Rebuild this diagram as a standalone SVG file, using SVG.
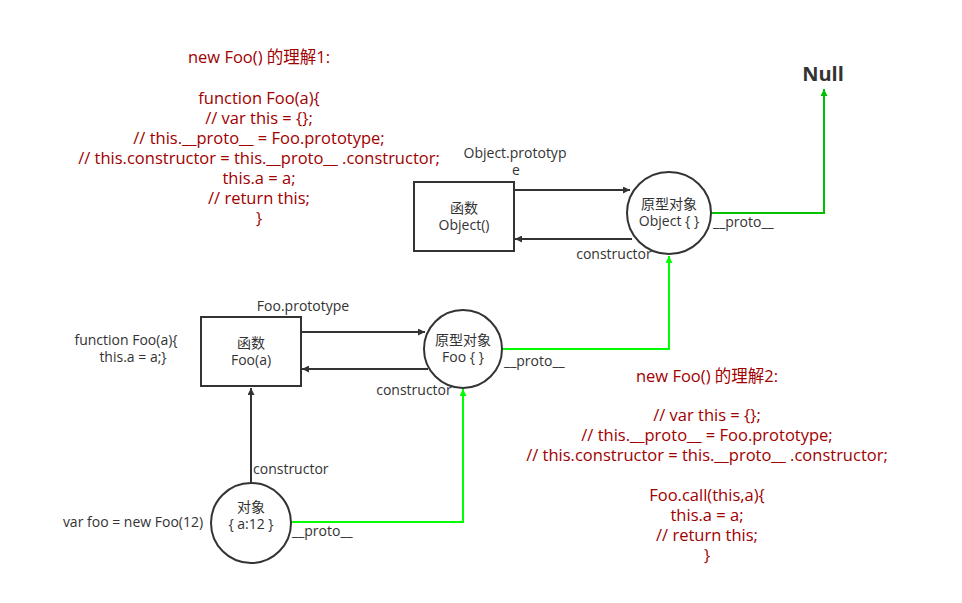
<svg xmlns="http://www.w3.org/2000/svg" width="962" height="603" viewBox="0 0 962 603">
<defs>
<style>
.lbl{font-family:"Open Sans","Noto Sans CJK SC",sans-serif;font-size:14px;fill:#333;text-anchor:middle}
.lbll{font-family:"Open Sans","Noto Sans CJK SC",sans-serif;font-size:14px;fill:#333}
.red{font-family:"Open Sans","Noto Sans CJK SC",sans-serif;font-size:16.5px;fill:#a00000;text-anchor:middle}
.box{fill:#fff;stroke:#333;stroke-width:2}
.blk{fill:none;stroke:#333;stroke-width:2}
.g1{fill:none;stroke:#00c000;stroke-width:2}
.g2{fill:none;stroke:#00ff00;stroke-width:2}
</style>
<marker id="ab" viewBox="0 0 10 10" refX="10" refY="5" markerWidth="7" markerHeight="7" orient="auto" markerUnits="userSpaceOnUse"><path d="M0,0 L10,5 L0,10 z" fill="#333"/></marker>
<marker id="ag1" viewBox="0 0 10 10" refX="10" refY="5" markerWidth="7" markerHeight="7" orient="auto" markerUnits="userSpaceOnUse"><path d="M0,0 L10,5 L0,10 z" fill="#00c000"/></marker>
<marker id="ag2" viewBox="0 0 10 10" refX="10" refY="5" markerWidth="7" markerHeight="7" orient="auto" markerUnits="userSpaceOnUse"><path d="M0,0 L10,5 L0,10 z" fill="#00ff00"/></marker>
</defs>
<rect width="962" height="603" fill="#fff"/>

<g id="note1">
<text class="red" x="259" y="63">new Foo() 的理解1:</text>
<text class="red" x="259" y="104">function Foo(a){</text>
<text class="red" x="259" y="124">// var this = {};</text>
<text class="red" x="259" y="144">// this.__proto__ = Foo.prototype;</text>
<text class="red" x="259" y="164">// this.constructor = this.__proto__ .constructor;</text>
<text class="red" x="259" y="184">this.a = a;</text>
<text class="red" x="259" y="204">// return this;</text>
<text class="red" x="259" y="224">}</text>
</g>

<g id="note2">
<text class="red" x="707" y="382">new Foo() 的理解2:</text>
<text class="red" x="707" y="421">// var this = {};</text>
<text class="red" x="707" y="441">// this.__proto__ = Foo.prototype;</text>
<text class="red" x="707" y="461">// this.constructor = this.__proto__ .constructor;</text>
<text class="red" x="707" y="501">Foo.call(this,a){</text>
<text class="red" x="707" y="521">this.a = a;</text>
<text class="red" x="707" y="541">// return this;</text>
<text class="red" x="707" y="561">}</text>
</g>

<g id="connectors">
<line class="blk" x1="514" y1="190" x2="630" y2="190" marker-end="url(#ab)"/>
<line class="blk" x1="632" y1="239" x2="515" y2="239" marker-end="url(#ab)"/>
<polyline class="g1" points="712,213 824,213 824,89" marker-end="url(#ag1)"/>
<line class="blk" x1="301" y1="332" x2="425" y2="332" marker-end="url(#ab)"/>
<line class="blk" x1="428" y1="369" x2="302" y2="369" marker-end="url(#ab)"/>
<polyline class="g2" points="502,349 669,349 669,256" marker-end="url(#ag2)"/>
<line class="blk" x1="251" y1="483" x2="251" y2="388" marker-end="url(#ab)"/>
<polyline class="g2" points="292,522 463,522 463,389" marker-end="url(#ag2)"/>
<text class="lbl" x="515" y="158">Object.prototyp</text>
<text class="lbl" x="516" y="175">e</text>
<text class="lbl" x="614" y="259">constructor</text>
<text class="lbll" x="713" y="227">__proto__</text>
<text class="lbl" x="303" y="311">Foo.prototype</text>
<text class="lbl" x="414" y="395">constructor</text>
<text class="lbll" x="504" y="366">__proto__</text>
<text class="lbll" x="253" y="474">constructor</text>
<text class="lbll" x="292" y="536">__proto__</text>
</g>

<g id="null"><text x="823" y="81" font-family="Open Sans, sans-serif" font-size="20" font-weight="bold" fill="#333" text-anchor="middle">Null</text></g>

<g id="objectFn">
<rect class="box" x="414" y="182" width="100" height="69"/>
<text class="lbl" x="464" y="213">函数</text>
<text class="lbl" x="464" y="230">Object()</text>
</g>
<g id="objectProto">
<ellipse class="box" cx="669" cy="213" rx="42" ry="41"/>
<text class="lbl" x="669" y="209">原型对象</text>
<text class="lbl" x="669" y="226">Object { }</text>
</g>
<g id="fooFn">
<rect class="box" x="201" y="317" width="100" height="69"/>
<text class="lbl" x="251" y="348">函数</text>
<text class="lbl" x="251" y="365">Foo(a)</text>
<text class="lbl" x="126" y="345">function Foo(a){</text>
<text class="lbl" x="133" y="362">this.a = a;}</text>
</g>
<g id="fooProto">
<circle class="box" cx="463" cy="349" r="39"/>
<text class="lbl" x="463" y="345">原型对象</text>
<text class="lbl" x="463" y="362">Foo { }</text>
</g>
<g id="foo">
<circle class="box" cx="251" cy="523" r="40"/>
<text class="lbl" x="251" y="512">对象</text>
<text class="lbl" x="251" y="529">{ a:12 }</text>
<text class="lbl" x="133" y="527">var foo = new Foo(12)</text>
</g>
</svg>
